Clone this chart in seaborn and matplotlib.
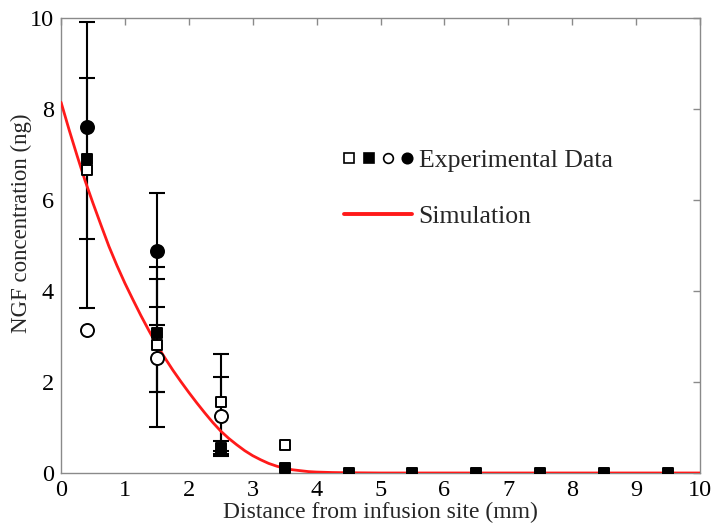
import matplotlib
matplotlib.use("Agg")
import matplotlib.pyplot as plt
import numpy as np
import pandas as pd
import seaborn as sns
from matplotlib.lines import Line2D
from matplotlib.legend_handler import HandlerTuple

# Simulated NGF concentration profile (mm, ng)
sim_x = [0.0, 0.125, 0.25, 0.375, 0.5, 0.625, 0.75, 0.875, 1.0, 1.125,
         1.25, 1.375, 1.5, 1.625, 1.75, 1.875, 2.0, 2.125, 2.25, 2.375,
         2.5, 2.625, 2.75, 2.875, 3.0, 3.125, 3.25, 3.375, 3.5, 3.625,
         3.75, 3.875, 4.0, 4.25, 4.5, 5.0, 6.0, 7.0, 8.0, 9.0, 10.0]
sim_y = [8.15, 7.55, 6.98, 6.43, 5.93, 5.45, 4.98, 4.56, 4.17, 3.81,
         3.46, 3.13, 2.81, 2.53, 2.26, 2.01, 1.77, 1.54, 1.32, 1.11,
         0.92, 0.76, 0.62, 0.49, 0.38, 0.29, 0.21, 0.15, 0.10, 0.07,
         0.05, 0.03, 0.02, 0.01, 0.005, 0.0, 0.0, 0.0, 0.0, 0.0, 0.0]

# Measured data sets: positions, means, lower / upper error extents
open_sq_x = [0.4, 1.5, 2.5, 3.5]
open_sq_y = [6.65, 2.81, 1.55, 0.61]
open_sq_lo = [3.02, 1.79, 1.07, 0.0]
open_sq_hi = [3.26, 1.45, 1.07, 0.0]

filled_sq_x = [0.4, 1.5, 2.5, 3.5, 4.5, 5.5, 6.5, 7.5, 8.5, 9.5]
filled_sq_y = [6.9, 3.08, 0.54, 0.12, 0.0, 0.0, 0.0, 0.0, 0.0, 0.0]
filled_sq_lo = [1.75, 1.31, 0.17, 0.0, 0.0, 0.0, 0.0, 0.0, 0.0, 0.0]
filled_sq_hi = [1.78, 1.44, 0.17, 0.0, 0.0, 0.0, 0.0, 0.0, 0.0, 0.0]

open_circ_x = [0.4, 1.5, 2.5]
open_circ_y = [3.15, 2.52, 1.26]
open_circ_lo = [0.0, 0.75, 0.84]
open_circ_hi = [0.0, 0.74, 0.84]

filled_circ_x = [0.4, 1.5]
filled_circ_y = [7.6, 4.87]
filled_circ_lo = [0.0, 1.23]
filled_circ_hi = [0.0, 1.28]

x_ticks = [0, 1, 2, 3, 4, 5, 6, 7, 8, 9, 10]
y_ticks = [0, 2, 4, 6, 8, 10]

sns.set_style("white")
plt.rcParams["font.family"] = ["Liberation Serif", "DejaVu Serif"]

fig = plt.figure(figsize=(7.13, 5.27), dpi=100)
ax = fig.add_axes([0.0856, 0.1025, 0.8962, 0.8633])

sets = [
    ("open_sq", open_sq_x, open_sq_y, open_sq_lo, open_sq_hi, "s", "white", 58),
    ("filled_sq", filled_sq_x, filled_sq_y, filled_sq_lo, filled_sq_hi, "s", "black", 58),
    ("open_circ", open_circ_x, open_circ_y, open_circ_lo, open_circ_hi, "o", "white", 88),
    ("filled_circ", filled_circ_x, filled_circ_y, filled_circ_lo, filled_circ_hi, "o", "black", 88),
]

# error bars first, so they sit underneath the curve and markers
for name, xs, ys, lo, hi, mk, fc, s in sets:
    df = pd.DataFrame({"x": xs, "y": ys, "lo": lo, "hi": hi})
    df = df[(df["lo"] + df["hi"]) > 0]
    if len(df):
        ax.errorbar(df["x"], df["y"], yerr=[df["lo"], df["hi"]], fmt="none",
                    ecolor="black", elinewidth=1.5, capsize=6, capthick=1.5,
                    zorder=2)

sim_df = pd.DataFrame({"x": sim_x, "y": sim_y})
sns.lineplot(data=sim_df, x="x", y="y", ax=ax, color="#ff1a1a", linewidth=2.0,
             zorder=3)

for name, xs, ys, lo, hi, mk, fc, s in sets:
    df = pd.DataFrame({"x": xs, "y": ys})
    sns.scatterplot(data=df, x="x", y="y", ax=ax, marker=mk, s=s,
                    facecolor=fc, edgecolor="black", linewidth=1.4, zorder=4)

ax.set_xlim(0, 10)
ax.set_ylim(0, 10)
ax.set_xticks(x_ticks)
ax.set_yticks(y_ticks)
ax.set_xticklabels([str(t) for t in x_ticks])
ax.set_yticklabels([str(t) for t in y_ticks])
ax.tick_params(direction="in", length=5, width=1, color="#8a8a8a",
               labelcolor="black", labelsize=17.5, top=True, right=True)
ax.tick_params(axis="x", pad=5)
ax.tick_params(axis="y", pad=5)
for sp in ax.spines.values():
    sp.set_color("#8a8a8a")
    sp.set_linewidth(1.0)

ax.set_xlabel("Distance from infusion site (mm)", fontsize=17)
ax.set_ylabel("NGF concentration (ng)", fontsize=16.5)
ax.xaxis.set_label_coords(0.5, -0.064)
ax.yaxis.set_label_coords(-0.046, 0.549)

# legend: four marker glyphs share one entry
glyphs = (
    Line2D([], [], marker="s", ls="none", ms=6.5, mfc="white", mec="black", mew=1.2),
    Line2D([], [], marker="s", ls="none", ms=6.5, mfc="black", mec="black", mew=1.2),
    Line2D([], [], marker="o", ls="none", ms=7, mfc="white", mec="black", mew=1.2),
    Line2D([], [], marker="o", ls="none", ms=7.5, mfc="black", mec="black", mew=1.2),
)
sim_handle = Line2D([], [], color="#ff1a1a", lw=2.8)
ax.legend([glyphs, sim_handle], ["Experimental Data", "Simulation"],
          handler_map={tuple: HandlerTuple(ndivide=None, pad=0.34)},
          loc="upper left", bbox_to_anchor=(0.443, 0.712), frameon=False,
          fontsize=18.5, handlelength=2.65, handletextpad=0.25,
          labelspacing=1.3, borderaxespad=0, borderpad=0)

fig.savefig("out.png", dpi=100)
